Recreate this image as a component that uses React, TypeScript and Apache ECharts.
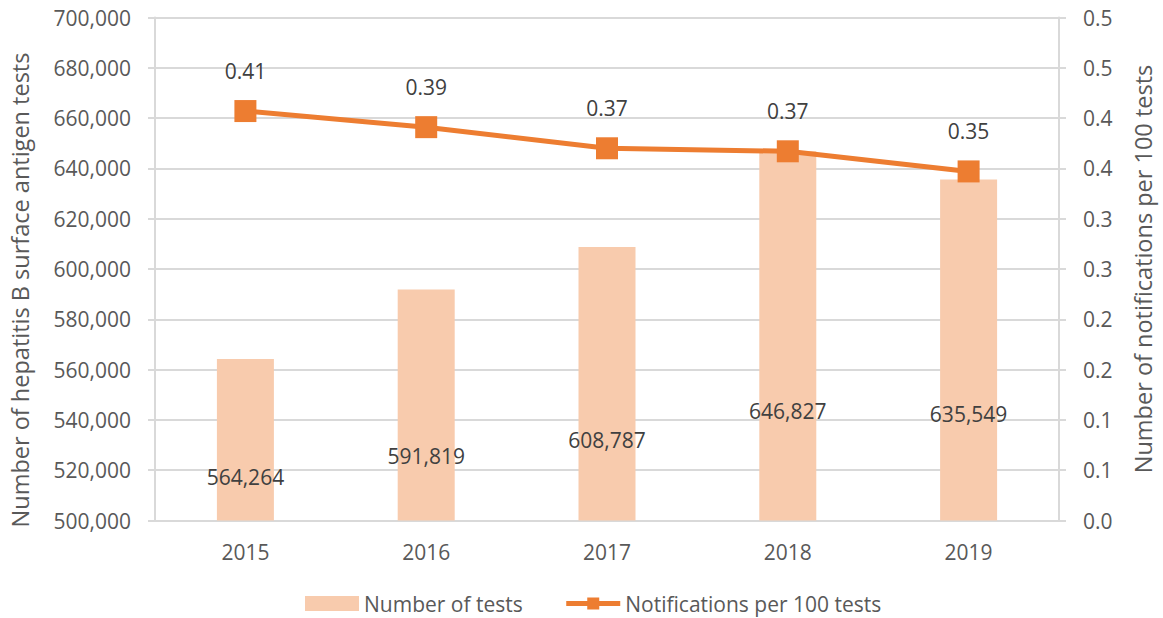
import React, { useEffect, useRef } from "react";
import * as echarts from "echarts";

const years = ["2015", "2016", "2017", "2018", "2019"];
const numberOfTests = [564264, 591819, 608787, 646827, 635549];
const notificationsPer100 = [0.407, 0.391, 0.37, 0.367, 0.347];
const notificationLabels = ["0.41", "0.39", "0.37", "0.37", "0.35"];
const testLabelLift = [33, 54, 70, 99, 96];

const FONT = "'Open Sans', sans-serif";
const AXIS_TEXT = "#595959";
const DATA_TEXT = "#404040";
const GRID = "#D9D9D9";
const BAR = "#F8CBAD";
const LINE = "#ED7D31";

export default function App() {
  const ref = useRef<HTMLDivElement>(null);
  useEffect(() => {
    document.body.style.margin = "0";
    const chart = echarts.init(ref.current!, null, { renderer: "svg" });
    chart.setOption({
      animation: false,
      textStyle: { fontFamily: FONT },
      grid: { left: 154, right: 96, top: 17.5, bottom: 97.5, containLabel: false },
      legend: {
        top: 593,
        left: 305,
        padding: 0,
        itemGap: 41,
        textStyle: { color: AXIS_TEXT, fontSize: 21, fontFamily: FONT },
        data: [
          { name: "Number of tests", icon: "rect", itemStyle: { color: BAR } },
          {
            name: "Notifications per 100 tests",
            lineStyle: { color: LINE, width: 5 },
            itemStyle: { color: LINE },
          },
        ],
        itemWidth: 54,
        itemHeight: 15,
      },
      xAxis: {
        type: "category",
        data: years,
        axisLine: { show: true, lineStyle: { color: GRID, width: 2 } },
        axisTick: { show: false },
        axisLabel: { color: AXIS_TEXT, fontSize: 21, margin: 21, fontFamily: FONT },
      },
      yAxis: [
        {
          type: "value",
          min: 500000,
          max: 700000,
          interval: 20000,
          name: "Number of hepatitis B surface antigen tests",
          nameLocation: "middle",
          nameGap: 123,
          nameTextStyle: {
            color: AXIS_TEXT,
            fontSize: 23.5,
            fontFamily: FONT,
            padding: [0, 42, 0, 0],
          },
          axisLine: { show: true, lineStyle: { color: GRID, width: 2 } },
          axisTick: { show: true, length: 7, lineStyle: { color: GRID, width: 2 } },
          splitLine: { show: true, lineStyle: { color: GRID, width: 2 } },
          axisLabel: {
            color: AXIS_TEXT,
            fontSize: 21,
            margin: 24,
            fontFamily: FONT,
            formatter: (v: number) => v.toLocaleString("en-US"),
          },
        },
        {
          type: "value",
          min: 0,
          max: 0.5,
          interval: 0.05,
          position: "right",
          name: "Number of notifications per 100 tests",
          nameLocation: "middle",
          nameGap: 72,
          nameTextStyle: { color: AXIS_TEXT, fontSize: 23.5, fontFamily: FONT },
          axisLine: { show: true, lineStyle: { color: GRID, width: 2 } },
          axisTick: { show: true, length: 7, lineStyle: { color: GRID, width: 2 } },
          splitLine: { show: false },
          axisLabel: {
            color: AXIS_TEXT,
            fontSize: 21,
            margin: 24,
            fontFamily: FONT,
            formatter: (v: number) => (Math.round(v * 10 + 1e-9) / 10).toFixed(1),
          },
        },
      ],
      series: [
        {
          name: "Number of tests",
          type: "bar",
          yAxisIndex: 0,
          barWidth: 57,
          itemStyle: { color: BAR },
          data: numberOfTests.map((v, i) => ({
            value: v,
            label: {
              show: true,
              position: "insideBottom",
              distance: testLabelLift[i],
              color: DATA_TEXT,
              fontSize: 21,
              fontFamily: FONT,
              formatter: () => v.toLocaleString("en-US"),
            },
          })),
          z: 1,
        },
        {
          name: "Notifications per 100 tests",
          type: "line",
          yAxisIndex: 1,
          symbol: "rect",
          symbolSize: 22,
          lineStyle: { color: LINE, width: 5 },
          itemStyle: { color: LINE },
          data: notificationsPer100.map((v, i) => ({
            value: v,
            label: {
              show: true,
              position: "top",
              distance: 19,
              color: DATA_TEXT,
              fontSize: 21,
              fontFamily: FONT,
              formatter: () => notificationLabels[i],
            },
          })),
          z: 3,
        },
      ],
    });
    return () => chart.dispose();
  }, []);
  return (
    <div
      ref={ref}
      style={{ position: "absolute", left: 0, top: 0, width: 1163, height: 618 }}
    />
  );
}
